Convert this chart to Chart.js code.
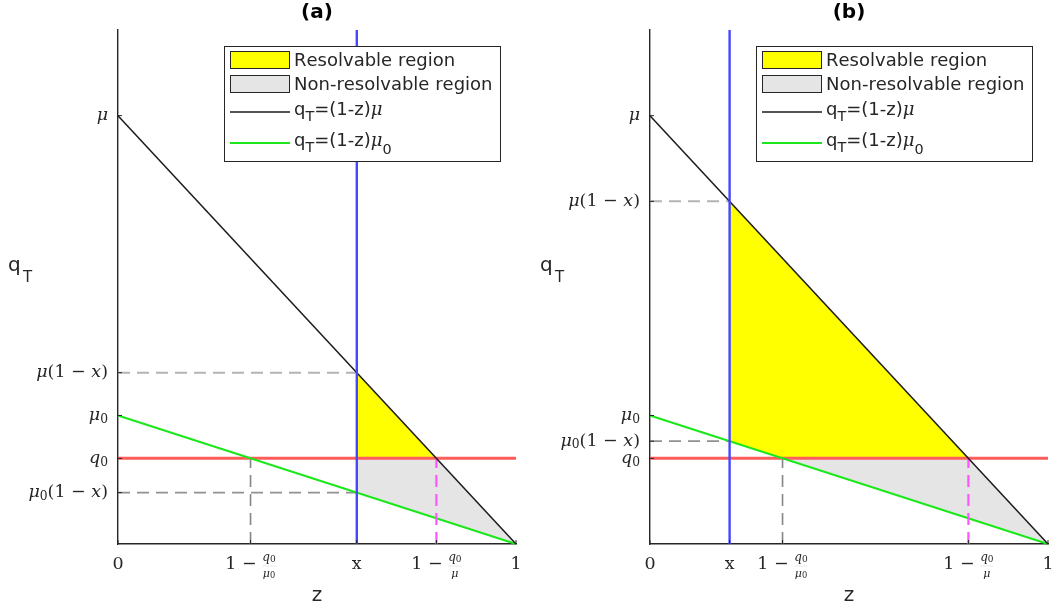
<!DOCTYPE html>
<html>
<head>
<meta charset="utf-8">
<script src="https://cdn.jsdelivr.net/npm/chart.js@4.4.1/dist/chart.umd.min.js"></script>
<style>
  body { margin: 0; background: #fff; }
  #wrap { position: relative; width: 1052px; height: 607px; }
  canvas { position: absolute; top: 0; }
</style>
</head>
<body>
<div id="wrap">
  <canvas id="chartA" width="526" height="607" style="left:0px"></canvas>
  <canvas id="chartB" width="520" height="607" style="left:532px"></canvas>
</div>
<script>
// ---- data (z on x axis, q_T on y axis) ----
const blackLine = [[0, 1], [1, 0]]          // q_T = (1-z) mu
const greenLine = [[0, 0.3], [1, 0]]        // q_T = (1-z) mu0
const redLine = [[0, 0.2], [1, 0.2]]        // q0

// panel (a)
const blueLineA = [[0.6, 0], [0.6, 1.2]]
const yellowA = [[0.6, 0.4], [0.8, 0.2], [0.6, 0.2], [0.6, 0.4]]
const grayA = [[0.6, 0.2], [0.8, 0.2], [1, 0], [0.6, 0.12], [0.6, 0.2]]
const lightDashA = [[0, 0.4], [0.6, 0.4]]
const darkDashA = [[0, 0.12], [0.6, 0.12]]
const vDashA = [[0.333, 0], [0.333, 0.2]]
const magentaA = [[0.8, 0], [0.8, 0.2]]
const zTicksA = [0, 0.333, 0.6, 0.8, 1]
const zLabelsA = ["0", "1 − q_0/μ_0", "x", "1 − q_0/μ", "1"]
const qTicksA = [1, 0.4, 0.3, 0.2, 0.12]
const qLabelsA = ["μ", "μ(1 − x)", "μ_0", "q_0", "μ_0(1 − x)"]

// panel (b)
const blueLineB = [[0.2, 0], [0.2, 1.2]]
const yellowB = [[0.2, 0.8], [0.8, 0.2], [0.333, 0.2], [0.2, 0.24], [0.2, 0.8]]
const grayB = [[0.333, 0.2], [0.8, 0.2], [1, 0], [0.333, 0.2]]
const lightDashB = [[0, 0.8], [0.2, 0.8]]
const darkDashB = [[0, 0.24], [0.2, 0.24]]
const vDashB = [[0.333, 0], [0.333, 0.2]]
const magentaB = [[0.8, 0], [0.8, 0.2]]
const zTicksB = [0, 0.2, 0.333, 0.8, 1]
const zLabelsB = ["0", "x", "1 − q_0/μ_0", "1 − q_0/μ", "1"]
const qTicksB = [1, 0.8, 0.3, 0.24, 0.2]
const qLabelsB = ["μ", "μ(1 − x)", "μ_0", "μ_0(1 − x)", "q_0"]

const legendLabels = ["Resolvable region", "Non-resolvable region", "q_T=(1-z)μ", "q_T=(1-z)μ_0"]

const YELLOW = "#ffff00"
const GRAY_FILL = "#e5e5e5"
const GREEN = "#1be81b"
const BLACK = "#1a1a1a"

function pts(arr) {
  return arr.map(p => ({x: p[0], y: p[1]}))
}

// ---- little rich text helper (subscripts with _) ----
function buildRuns(ctx, str, size, fontFor, subScale, subDy) {
  const runs = []
  for (let i = 0; i < str.length; i++) {
    let c = str[i], sub = false
    if (c === "_") { sub = true; c = str[++i] }
    const s = sub ? size * subScale : size
    const font = fontFor(c, /[a-zA-Zμ]/.test(c), s)
    ctx.font = font
    runs.push({c: c, font: font, w: ctx.measureText(c).width, dy: sub ? subDy : 0})
  }
  return runs
}
function runsWidth(runs) {
  return runs.reduce((a, r) => a + r.w, 0)
}
function drawRuns(ctx, runs, x, y) {
  ctx.textBaseline = "middle"
  ctx.textAlign = "left"
  runs.forEach(r => {
    ctx.font = r.font
    ctx.fillText(r.c, x, y + r.dy)
    x += r.w
  })
}

const mathFont = (c, letter, s) => (letter ? "italic " : "") + s + "px 'DejaVu Serif'"
const uprightMath = (c, letter, s) => s + "px 'DejaVu Serif'"
const legendFont = (c, letter, s) => c === "μ" ? "italic " + s + "px 'DejaVu Serif'" : s + "px 'DejaVu Sans'"

const panelPlugin = {
  id: "panel",
  afterDraw(chart, args, o) {
    const ctx = chart.ctx
    const area = chart.chartArea
    const xs = chart.scales.x, ys = chart.scales.y
    ctx.save()

    // small inward ticks
    ctx.strokeStyle = "#262626"
    ctx.lineWidth = 1
    o.qTicks.forEach(v => {
      const py = ys.getPixelForValue(v)
      ctx.beginPath(); ctx.moveTo(area.left, py); ctx.lineTo(area.left + 4, py); ctx.stroke()
    })
    o.zTicks.forEach(v => {
      const px = xs.getPixelForValue(v)
      ctx.beginPath(); ctx.moveTo(px, area.bottom); ctx.lineTo(px, area.bottom - 4); ctx.stroke()
    })

    // y tick labels
    ctx.fillStyle = "#262626"
    o.qTicks.forEach((v, i) => {
      const runs = buildRuns(ctx, o.qLabels[i], 17.5, mathFont, 0.7, 4)
      drawRuns(ctx, runs, area.left - 10 - runsWidth(runs), ys.getPixelForValue(v))
    })

    // x tick labels (with stacked fractions)
    o.zTicks.forEach((v, i) => {
      const label = o.zLabels[i]
      const px = xs.getPixelForValue(v)
      const py = area.bottom + 20
      if (label.indexOf("/") < 0) {
        const runs = buildRuns(ctx, label, 17.5, label === "x" ? uprightMath : mathFont, 0.7, 4)
        drawRuns(ctx, runs, px - runsWidth(runs) / 2, py)
        return
      }
      const parts = label.split(" ")
      const frac = parts.pop().split("/")
      const pre = buildRuns(ctx, parts.join(" ") + " ", 17.5, mathFont, 0.7, 4)
      const num = buildRuns(ctx, frac[0], 12, mathFont, 0.75, 2)
      const den = buildRuns(ctx, frac[1], 11, mathFont, 0.75, 2)
      const fw = Math.max(runsWidth(num), runsWidth(den))
      const total = runsWidth(pre) + fw
      let x0 = px - total / 2
      drawRuns(ctx, pre, x0, py)
      x0 += runsWidth(pre)
      drawRuns(ctx, num, x0 + (fw - runsWidth(num)) / 2, py - 6)
      drawRuns(ctx, den, x0 + (fw - runsWidth(den)) / 2, py + 10)
      ctx.strokeStyle = "#d8d8d8"
      ctx.lineWidth = 0.6
      ctx.beginPath(); ctx.moveTo(x0, py + 2); ctx.lineTo(x0 + fw, py + 2); ctx.stroke()
    })

    // title
    const cx = (area.left + area.right) / 2
    ctx.fillStyle = "#000"
    ctx.textAlign = "center"
    ctx.textBaseline = "middle"
    ctx.font = "bold 20px 'DejaVu Sans'"
    ctx.fillText(o.title, cx, 13)

    // axis titles
    ctx.fillStyle = "#262626"
    ctx.font = "20px 'DejaVu Sans'"
    ctx.fillText("z", cx, 596)
    ctx.textAlign = "left"
    ctx.textBaseline = "alphabetic"
    ctx.fillText("q", area.left - 110, 271)
    ctx.font = "15px 'DejaVu Sans'"
    ctx.fillText("T", area.left - 95, 282)

    // legend box
    const lx = area.left + 106, ly = 46, lw = 276, lh = 115
    ctx.fillStyle = "#fff"
    ctx.fillRect(lx, ly, lw, lh)
    ctx.strokeStyle = "#262626"
    ctx.lineWidth = 1
    ctx.strokeRect(lx + 0.5, ly + 0.5, lw, lh)

    ctx.fillStyle = YELLOW
    ctx.fillRect(lx + 6, ly + 5, 60, 18)
    ctx.strokeRect(lx + 6.5, ly + 5.5, 59, 17)
    ctx.fillStyle = GRAY_FILL
    ctx.fillRect(lx + 6, ly + 29, 60, 18)
    ctx.strokeRect(lx + 6.5, ly + 29.5, 59, 17)

    ctx.lineWidth = 1.5
    ctx.strokeStyle = BLACK
    ctx.beginPath(); ctx.moveTo(lx + 6, ly + 66); ctx.lineTo(lx + 66, ly + 66); ctx.stroke()
    ctx.lineWidth = 2
    ctx.strokeStyle = GREEN
    ctx.beginPath(); ctx.moveTo(lx + 6, ly + 97); ctx.lineTo(lx + 66, ly + 97); ctx.stroke()

    ctx.fillStyle = "#262626"
    const rowY = [ly + 15, ly + 39, ly + 64, ly + 95]
    legendLabels.forEach((t, i) => {
      const runs = buildRuns(ctx, t, 18, legendFont, 0.8, 7)
      if (i === 3) runs[runs.length - 1].dy = 9
      drawRuns(ctx, runs, lx + 70, rowY[i])
    })

    ctx.restore()
  }
}

function makePanel(id, rightPad, d) {
  const line = (data, color, width, dash, order) => ({
    data: pts(data), borderColor: color, borderWidth: width, borderDash: dash || [],
    fill: false, pointRadius: 0, clip: false, order: order, tension: 0
  })
  const area = (data, color) => ({
    data: pts(data), backgroundColor: color, borderWidth: 0, borderColor: color,
    fill: "shape", pointRadius: 0, order: 20, tension: 0
  })
  new Chart(document.getElementById(id), {
    type: "line",
    data: {
      datasets: [
        area(d.yellow, YELLOW),
        area(d.gray, GRAY_FILL),
        line(d.lightDash, "#b4b4b4", 2, [12, 7], 12),
        line(d.darkDash, "#909090", 1.8, [12, 7], 12),
        line(d.vDash, "#858585", 1.6, [12, 7], 12),
        line(redLine, "#ff5c5c", 3, null, 9),
        line(greenLine, GREEN, 2, null, 8),
        line(d.magenta, "#ff55ff", 2.2, [12, 7], 7),
        line(blackLine, BLACK, 1.5, null, 6),
        line(d.blue, "#4646ff", 2.4, null, 5)
      ]
    },
    options: {
      responsive: false,
      animation: false,
      layout: { padding: { left: 118, right: rightPad, top: 30, bottom: 63 } },
      plugins: {
        legend: { display: false },
        title: { display: false },
        tooltip: { enabled: false },
        panel: d.labels
      },
      scales: {
        x: {
          type: "linear", min: 0, max: 1,
          ticks: { display: false },
          grid: { display: false, drawTicks: false },
          border: { display: true, color: "#262626", width: 1.4 },
          afterFit(s) { s.height = 0 }
        },
        y: {
          type: "linear", min: 0, max: 1.2,
          ticks: { display: false },
          grid: { display: false, drawTicks: false },
          border: { display: true, color: "#262626", width: 1.4 },
          afterFit(s) { s.width = 0 }
        }
      }
    },
    plugins: [panelPlugin]
  })
}

makePanel("chartA", 10, {
  yellow: yellowA, gray: grayA, lightDash: lightDashA, darkDash: darkDashA,
  vDash: vDashA, magenta: magentaA, blue: blueLineA,
  labels: { title: "(a)", zTicks: zTicksA, zLabels: zLabelsA, qTicks: qTicksA, qLabels: qLabelsA }
})
makePanel("chartB", 4, {
  yellow: yellowB, gray: grayB, lightDash: lightDashB, darkDash: darkDashB,
  vDash: vDashB, magenta: magentaB, blue: blueLineB,
  labels: { title: "(b)", zTicks: zTicksB, zLabels: zLabelsB, qTicks: qTicksB, qLabels: qLabelsB }
})
</script>
</body>
</html>
